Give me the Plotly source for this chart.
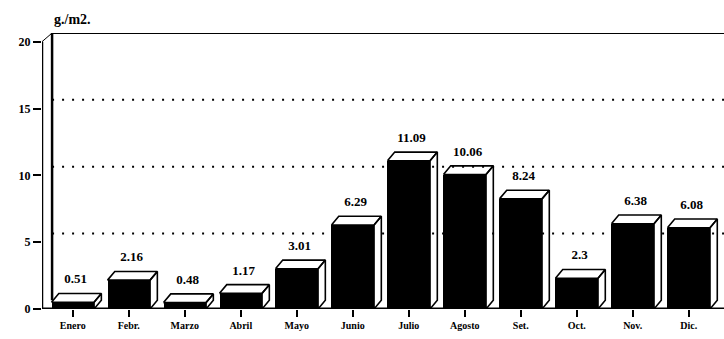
import plotly.graph_objects as go

# Monthly values, g./m2.
months = ["Enero", "Febr.", "Marzo", "Abril", "Mayo", "Junio",
          "Julio", "Agosto", "Set.", "Oct.", "Nov.", "Dic."]
values = [0.51, 2.16, 0.48, 1.17, 3.01, 6.29, 11.09, 10.06, 8.24, 2.3, 6.38, 6.08]
value_labels = ["0.51", "2.16", "0.48", "1.17", "3.01", "6.29",
                "11.09", "10.06", "8.24", "2.3", "6.38", "6.08"]
y_ticks = [0, 5, 10, 15, 20]

# pseudo-3D geometry (in axis units)
BAR_W = 0.76
DX, DY = 0.13, 0.65          # bar depth offset
WALL_DX = 0.18               # back wall offset
X0, X1 = -0.55, 11.63
Y_TOP = 20 + DY

xs = list(range(len(months)))
FONT = "Liberation Serif"

fig = go.Figure()

# front faces
fig.add_trace(go.Bar(x=xs, y=values, width=BAR_W, marker=dict(color="black", line=dict(width=0)),
                     hoverinfo="skip", showlegend=False))

# top and side faces as outlined white polygons
px, py = [], []
for x, v in zip(xs, values):
    a, b = x - BAR_W / 2, x + BAR_W / 2
    px += [a, a + DX, b + DX, b, a, None]
    py += [v, v + DY, v + DY, v, v, None]
    px += [b, b + DX, b + DX, b, b, None]
    py += [v, v + DY, DY, 0, v, None]
fig.add_trace(go.Scatter(x=px, y=py, mode="lines", fill="toself", fillcolor="white",
                         line=dict(color="black", width=1.6), hoverinfo="skip", showlegend=False))

# value labels above each bar
fig.add_trace(go.Scatter(x=[x + 0.05 for x in xs], y=[v + DY + 1.0 for v in values],
                         mode="text", text=value_labels, textposition="middle center",
                         textfont=dict(family=FONT, size=13, color="black", weight="bold"),
                         hoverinfo="skip", showlegend=False, cliponaxis=False))

shapes = []
# dotted grid lines on the back wall
for t in y_ticks[1:-1]:
    shapes.append(dict(type="line", xref="x", yref="y", x0=X0 + WALL_DX, x1=X1,
                       y0=t + DY, y1=t + DY, line=dict(color="black", width=2, dash="2px,8px")))
# back wall frame
shapes += [
    dict(type="line", xref="x", yref="y", x0=X0 + WALL_DX, x1=X0 + WALL_DX, y0=DY, y1=Y_TOP,
         line=dict(color="black", width=2.5)),
    dict(type="line", xref="x", yref="y", x0=X0 + WALL_DX, x1=X1, y0=Y_TOP, y1=Y_TOP,
         line=dict(color="black", width=2)),
    dict(type="line", xref="x", yref="y", x0=X0, x1=X0 + WALL_DX, y0=20, y1=Y_TOP,
         line=dict(color="black", width=1)),
    # front axis
    dict(type="line", xref="x", yref="y", x0=X0, x1=X0, y0=0, y1=20,
         line=dict(color="black", width=2.5)),
    # floor
    dict(type="line", xref="x", yref="y", x0=X0, x1=X1, y0=0, y1=0,
         line=dict(color="black", width=3)),
]

fig.update_layout(
    width=724, height=339,
    margin=dict(l=42, r=0, t=33, b=30),
    paper_bgcolor="white", plot_bgcolor="white",
    shapes=shapes,
    bargap=0,
    xaxis=dict(range=[X0, X1], tickmode="array", tickvals=xs, ticktext=months,
               ticks="outside", ticklen=7, tickwidth=1.5, tickcolor="black",
               showgrid=False, zeroline=False, showline=False,
               tickfont=dict(family=FONT, size=10, color="black", weight="bold")),
    yaxis=dict(range=[0, Y_TOP], tickmode="array", tickvals=y_ticks,
               ticktext=[str(t) for t in y_ticks],
               ticks="outside", ticklen=8, tickwidth=1.5, tickcolor="black",
               showgrid=False, zeroline=False, showline=False,
               tickfont=dict(family=FONT, size=12, color="black", weight="bold")),
    annotations=[dict(text="g./m2.", xref="paper", yref="paper", x=0.015, y=1.0,
                      xanchor="left", yanchor="bottom", yshift=4, showarrow=False,
                      font=dict(family=FONT, size=14, color="black", weight="bold"))],
)

fig.write_html("out.html")
